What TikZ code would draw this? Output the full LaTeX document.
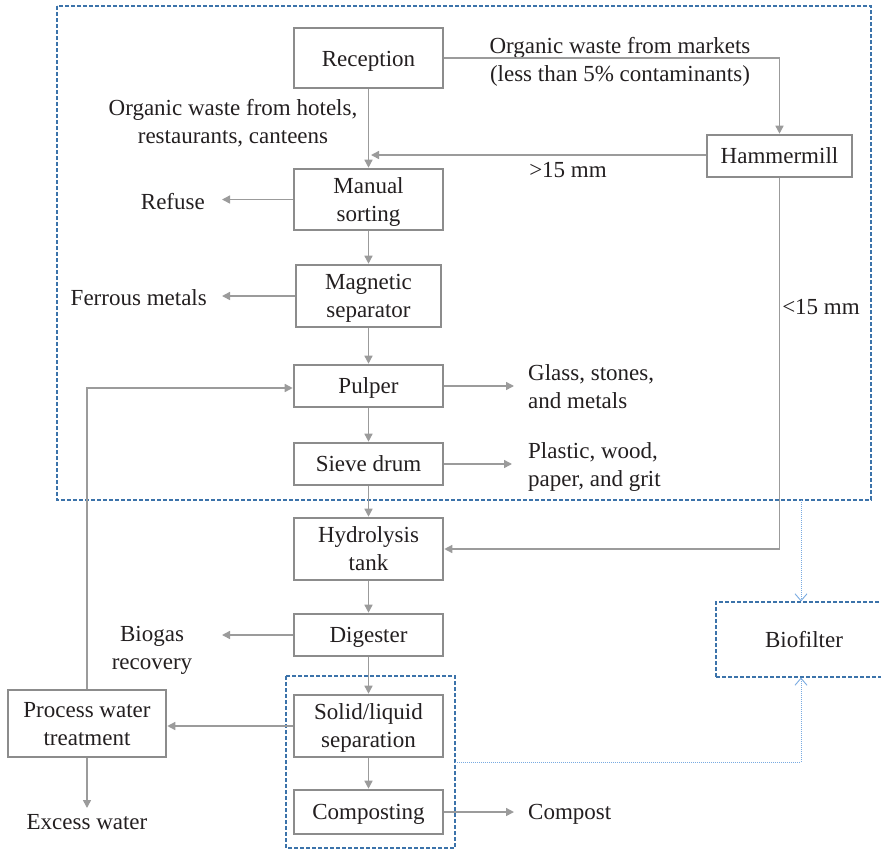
\documentclass[tikz,border=0pt]{standalone}
\usepackage{fontspec}
\setmainfont{Liberation Serif}
\usetikzlibrary{arrows.meta}
\definecolor{boxgray}{RGB}{140,140,140}
\definecolor{linegray}{RGB}{155,155,155}
\definecolor{dashblue}{RGB}{60,115,170}
\definecolor{dotblue}{RGB}{120,170,225}
\definecolor{inkc}{RGB}{35,31,32}

\begin{document}
\begin{tikzpicture}[x=1pt,y=-1pt,
  font=\fontsize{23}{28}\selectfont, text=inkc,
  stage/.style={draw=boxgray, line width=2.6pt, fill=white, align=center, inner sep=0pt, text depth=0pt},
  flow/.style={draw=linegray, line width=1.5pt, -{Triangle[length=8pt,width=8pt]}},
  zone/.style={draw=dashblue, line width=1.1pt, dash pattern=on 4pt off 2pt},
  airflow/.style={draw=dotblue, line width=0.9pt, dash pattern=on 1pt off 1pt,
    -{Straight Barb[length=7pt,width=12pt]}},
  lbl/.style={align=center, inner sep=0pt, text depth=0pt}]

\useasboundingbox (0,0) rectangle (881,849);

% dashed zones: pretreatment and solids handling
\draw[zone] (57,6) rectangle (871,500);
\draw[zone] (286,676) rectangle (455,848);
\coordinate (zoneout) at (801,500);
\coordinate (zonein) at (455,762);

% process stages
\node[stage, minimum width=149pt, minimum height=60pt] (rec) at (368.5,58) {\raisebox{-1.5pt}{Reception}};
\node[stage, minimum width=145pt, minimum height=42pt] (ham) at (779.5,156) {Hammermill};
\node[stage, minimum width=149pt, minimum height=61pt] (man) at (368.5,199.5) {Manual\\sorting};
\node[stage, minimum width=145pt, minimum height=62pt] (mag) at (368.5,296) {Magnetic\\separator};
\node[stage, minimum width=149pt, minimum height=42pt] (pul) at (368.5,386) {Pulper};
\node[stage, minimum width=149pt, minimum height=42pt] (sie) at (368.5,464) {Sieve drum};
\node[stage, minimum width=149pt, minimum height=62pt] (hyd) at (368.5,549) {Hydrolysis\\tank};
\node[stage, minimum width=149pt, minimum height=42pt] (dig) at (368.5,635) {Digester};
\node[stage, minimum width=149pt, minimum height=62pt] (sol) at (368.5,726) {Solid/liquid\\separation};
\node[stage, minimum width=149pt, minimum height=44pt] (com) at (368.5,812) {Composting};
\node[stage, minimum width=158pt, minimum height=67pt] (pwt) at (87,723.5) {Process water\\treatment};
\node[draw=dashblue, line width=1.1pt, dash pattern=on 4pt off 2pt, fill=white, text depth=0pt,
  minimum width=170pt, minimum height=75pt, inner sep=0pt] (bio) at (801,639.5) {\hspace*{6pt}Biofilter};

% stream labels
\node[lbl] (mkt) at (620,59) {Organic waste from markets\\(less than 5\% contaminants)};
\node[lbl] (hot) at (233,121) {Organic waste from hotels,\\restaurants, canteens};
\node[lbl] (gt) at (568,170) {\textgreater15 mm};
\node[lbl] (lt) at (821,307) {\textless15 mm};
\node[lbl, anchor=east] (refuse) at (205,201) {Refuse};
\node[lbl, anchor=east] (ferrous) at (207,298) {Ferrous metals};
\node[lbl, anchor=west, align=left] (glass) at (528,387) {Glass, stones,\\and metals};
\node[lbl, anchor=west, align=left] (plastic) at (528,465) {Plastic, wood,\\paper, and grit};
\node[lbl] (biogas) at (152,648) {Biogas\\recovery};
\node[lbl] (excess) at (87,822) {Excess water};
\node[lbl, anchor=west] (compost) at (528,812) {Compost};

% arrow end points of the outgoing streams
\coordinate (tipmerge) at (371,155);
\coordinate (tiprefuse) at (222,199.5);
\coordinate (tipferrous) at (222,296);
\coordinate (tipglass) at (514,386);
\coordinate (tipplastic) at (512,464);
\coordinate (tipbiogas) at (222,635);
\coordinate (tipexcess) at (87,808);
\coordinate (tipcompost) at (514,812);

% main line
\draw[flow] (rec.south) -- (man.north);
\draw[flow] (man.south) -- (mag.north);
\draw[flow] (mag.south) -- (pul.north);
\draw[flow] (pul.south) -- (sie.north);
\draw[flow] (sie.south) -- (hyd.north);
\draw[flow] (hyd.south) -- (dig.north);
\draw[flow] (dig.south) -- (sol.north);
\draw[flow] (sol.south) -- (com.north);

% market waste through the hammermill
\draw[flow] (rec.east) -| (ham.north);
\draw[flow] (ham.west |- tipmerge) -- (tipmerge);
\draw[flow] (ham.south) |- (hyd.east);

% rejects and products
\draw[flow] (man.west) -- (tiprefuse);
\draw[flow] (mag.west) -- (tipferrous);
\draw[flow] (pul.east) -- (tipglass);
\draw[flow] (sie.east) -- (tipplastic);
\draw[flow] (dig.west) -- (tipbiogas);
\draw[flow] (com.east) -- (tipcompost);

% process water loop
\draw[flow] (sol.west) -- (sol.west -| pwt.east);
\draw[flow] (pwt.north) |- ([yshift=-2pt]pul.west);
\draw[flow] (pwt.south) -- (tipexcess);

% exhaust air to the biofilter
\draw[airflow] (zoneout) -- (bio.north);
\draw[airflow] (zonein) -| (bio.south);
\end{tikzpicture}
\end{document}
